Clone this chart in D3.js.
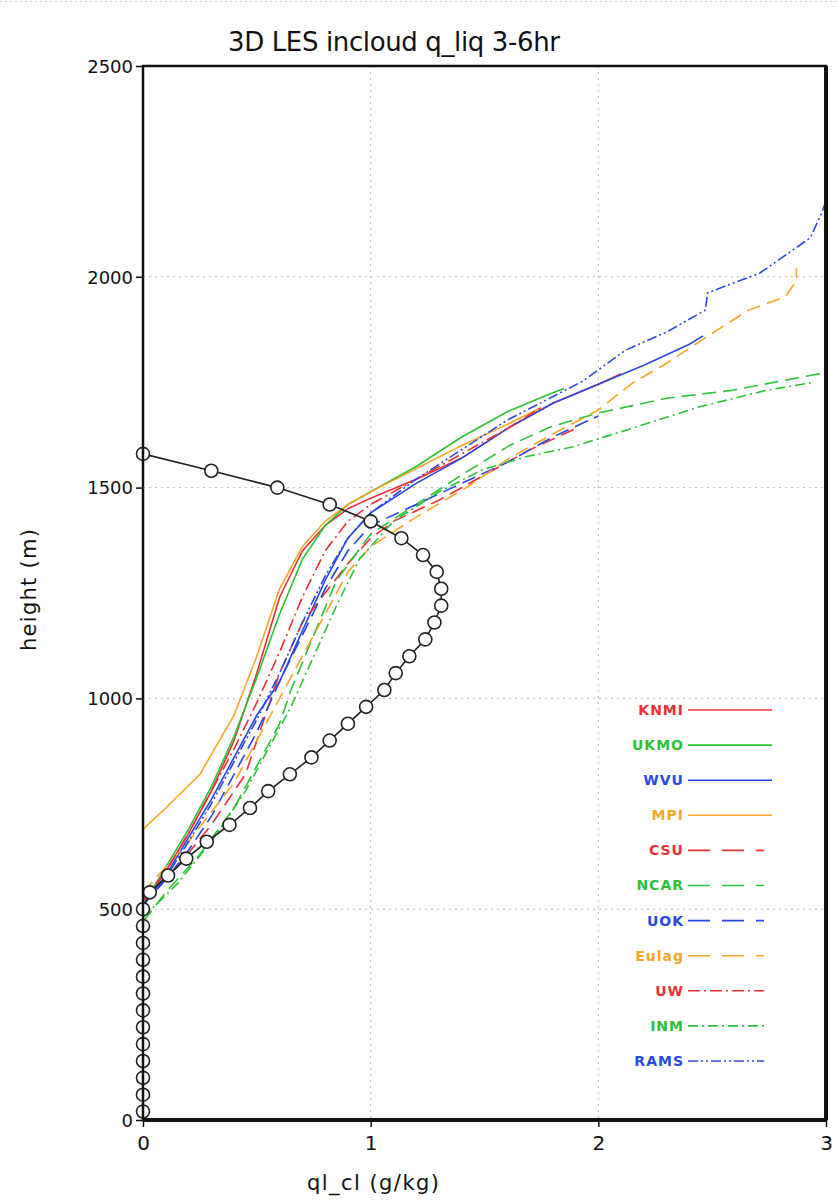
<!DOCTYPE html>
<html>
<head>
<meta charset="utf-8">
<script src="https://cdn.jsdelivr.net/npm/d3@7"></script>
<style>
  body { margin: 0; background: #fff; }
  svg text { font-family: "DejaVu Sans", sans-serif; }
</style>
</head>
<body>
<div id="chart"></div>
<script>
// observed / reference profile (black line with circles)
const obsHeight = [20, 60, 100, 140, 180, 220, 260, 300, 340, 380, 420, 460, 500, 540,
  580, 620, 660, 700, 740, 780, 820, 860, 900, 940, 980, 1020, 1060, 1100, 1140, 1180,
  1220, 1260, 1300, 1340, 1380, 1420, 1460, 1500, 1540, 1580]
const obsQl = [0, 0, 0, 0, 0, 0, 0, 0, 0, 0, 0, 0, 0, 0.03,
  0.11, 0.19, 0.28, 0.38, 0.47, 0.55, 0.645, 0.74, 0.82, 0.90, 0.98, 1.06, 1.11, 1.17, 1.24, 1.28,
  1.31, 1.31, 1.29, 1.23, 1.135, 1.00, 0.82, 0.59, 0.30, 0]

// model names and their [ql, height] profiles
const models = ['KNMI', 'UKMO', 'WVU', 'MPI', 'CSU', 'NCAR', 'UOK', 'Eulag', 'UW', 'INM', 'RAMS']
const colors = ['#ec3034', '#2cc236', '#2a48e4', '#f2a62a', '#ec3034', '#2cc236', '#2a48e4', '#f2a62a', '#ec3034', '#2cc236', '#2a48e4']
const dashes = ['none', 'none', 'none', 'none', '14,7', '14,7', '14,7', '14,7', '12,4,2,4', '10,4,2,4', '10,3,2,3,2,3']

const knmi = [[0, 510], [0.1, 590], [0.2, 680], [0.3, 780], [0.4, 900], [0.5, 1060], [0.6, 1240], [0.7, 1350], [0.8, 1410], [0.9, 1450], [1.0, 1475], [1.2, 1520], [1.4, 1570], [1.6, 1640], [1.8, 1700], [2.0, 1745], [2.1, 1770]]
const ukmo = [[0, 510], [0.1, 600], [0.2, 690], [0.3, 790], [0.4, 910], [0.5, 1050], [0.6, 1200], [0.7, 1330], [0.8, 1410], [0.9, 1460], [1.0, 1490], [1.2, 1550], [1.4, 1620], [1.6, 1680], [1.8, 1725], [1.85, 1735]]
const wvu = [[0, 510], [0.1, 580], [0.2, 670], [0.3, 760], [0.4, 860], [0.5, 960], [0.6, 1040], [0.7, 1160], [0.8, 1280], [0.9, 1380], [1.0, 1440], [1.2, 1510], [1.4, 1570], [1.6, 1640], [1.8, 1700], [2.0, 1745], [2.2, 1790], [2.4, 1840], [2.46, 1860]]
const mpi = [[0, 690], [0.1, 740], [0.25, 820], [0.4, 960], [0.5, 1100], [0.6, 1260], [0.7, 1360], [0.8, 1420], [0.9, 1460], [1.0, 1490], [1.2, 1545], [1.4, 1600], [1.6, 1650], [1.75, 1690]]
const csu = [[0, 520], [0.15, 600], [0.3, 700], [0.45, 820], [0.55, 980], [0.6, 1060], [0.7, 1180], [0.8, 1250], [0.9, 1320], [1.0, 1380], [1.1, 1420], [1.3, 1470], [1.5, 1530], [1.7, 1590], [1.9, 1640]]
const ncar = [[0, 470], [0.1, 540], [0.25, 630], [0.4, 740], [0.5, 840], [0.6, 940], [0.65, 1020], [0.75, 1150], [0.85, 1280], [1.0, 1390], [1.2, 1460], [1.4, 1530], [1.61, 1600], [1.79, 1644], [2.0, 1677], [2.3, 1712], [2.59, 1731], [2.94, 1767], [3.0, 1772]]
const uok = [[0, 510], [0.1, 570], [0.2, 640], [0.3, 720], [0.4, 820], [0.5, 920], [0.6, 1040], [0.7, 1150], [0.8, 1260], [0.9, 1350], [1.0, 1410], [1.2, 1460], [1.4, 1510], [1.6, 1560], [1.8, 1620], [2.0, 1670]]
const eulag = [[0, 540], [0.2, 660], [0.4, 800], [0.5, 900], [0.6, 1000], [0.7, 1100], [0.8, 1200], [0.9, 1300], [1.0, 1360], [1.2, 1430], [1.42, 1500], [1.61, 1570], [1.81, 1630], [2.0, 1684], [2.15, 1748], [2.3, 1795], [2.52, 1873], [2.66, 1921], [2.82, 1952], [2.87, 1990], [2.87, 2020]]
const uw = [[0, 520], [0.1, 590], [0.2, 680], [0.3, 780], [0.4, 880], [0.5, 990], [0.6, 1110], [0.7, 1240], [0.8, 1350], [0.9, 1420], [1.0, 1460], [1.2, 1520], [1.4, 1580], [1.6, 1640], [1.75, 1690]]
const inm = [[0, 480], [0.15, 560], [0.3, 660], [0.45, 780], [0.55, 880], [0.65, 980], [0.75, 1100], [0.85, 1220], [0.95, 1330], [1.1, 1420], [1.3, 1490], [1.49, 1542], [1.68, 1573], [1.89, 1597], [2.15, 1641], [2.44, 1691], [2.74, 1731], [2.95, 1750]]
const rams = [[0, 510], [0.1, 575], [0.2, 660], [0.3, 750], [0.4, 850], [0.5, 950], [0.6, 1060], [0.7, 1180], [0.8, 1290], [0.9, 1380], [1.0, 1440], [1.2, 1520], [1.4, 1590], [1.6, 1660], [1.93, 1752], [2.12, 1826], [2.3, 1869], [2.47, 1921], [2.48, 1962], [2.71, 2009], [2.93, 2092], [2.98, 2150], [3.0, 2180]]
const profiles = [knmi, ukmo, wvu, mpi, csu, ncar, uok, eulag, uw, inm, rams]

const xTicks = [0, 1, 2, 3]
const yTicks = [0, 500, 1000, 1500, 2000, 2500]

const W = 837, H = 1201
const svg = d3.select('#chart').append('svg')
  .attr('width', W)
  .attr('height', H)

const x = d3.scaleLinear().domain([0, 3]).range([143, 826])
const y = d3.scaleLinear().domain([0, 2500]).range([1120, 66])

// faint dotted line along the top edge of the picture
svg.append('line')
  .attr('x1', 0).attr('x2', W).attr('y1', 1.5).attr('y2', 1.5)
  .attr('stroke', '#ccc').attr('stroke-dasharray', '2,3')

// grid
const grid = svg.append('g').attr('stroke', '#bbb').attr('stroke-dasharray', '2,4').attr('stroke-width', 1)
grid.selectAll('line.gx')
  .data([1, 2])
  .enter().append('line')
  .attr('x1', d => x(d)).attr('x2', d => x(d))
  .attr('y1', y(2500)).attr('y2', y(0))
grid.selectAll('line.gy')
  .data([500, 1000, 1500, 2000])
  .enter().append('line')
  .attr('x1', x(0)).attr('x2', x(3))
  .attr('y1', d => y(d)).attr('y2', d => y(d))

// axes
const xAxis = svg.append('g')
  .attr('transform', 'translate(0,' + y(0) + ')')
  .call(d3.axisBottom(x).tickValues(xTicks).tickFormat(d3.format('d')).tickSizeOuter(0).tickSize(7).tickPadding(9))
const yAxis = svg.append('g')
  .attr('transform', 'translate(' + x(0) + ',0)')
  .call(d3.axisLeft(y).tickValues(yTicks).tickFormat(d3.format('d')).tickSizeOuter(0).tickSize(7).tickPadding(3))
xAxis.selectAll('text').attr('font-size', 20).attr('fill', '#111')
yAxis.selectAll('text').attr('font-size', 18).attr('fill', '#111').attr('dy', '0.35em')
xAxis.select('.domain').remove()
yAxis.select('.domain').remove()
svg.selectAll('.tick line').attr('stroke', '#111').attr('stroke-width', 1.5)

// model lines
const line = d3.line().x(d => x(d[0])).y(d => y(d[1]))
svg.append('g').selectAll('path.model')
  .data(profiles)
  .enter().append('path')
  .attr('class', 'model')
  .attr('d', line)
  .attr('fill', 'none')
  .attr('stroke', (d, i) => colors[i])
  .attr('stroke-width', 1.6)
  .attr('stroke-dasharray', (d, i) => dashes[i])

// reference profile
const obs = obsHeight.map((h, i) => [obsQl[i], h])
svg.append('path')
  .attr('d', line(obs))
  .attr('fill', 'none')
  .attr('stroke', '#222')
  .attr('stroke-width', 1.6)
svg.append('g').selectAll('circle')
  .data(obs)
  .enter().append('circle')
  .attr('cx', d => x(d[0]))
  .attr('cy', d => y(d[1]))
  .attr('r', 6.5)
  .attr('fill', '#fff')
  .attr('stroke', '#222')
  .attr('stroke-width', 1.6)

// frame
svg.append('rect')
  .attr('x', x(0)).attr('y', y(2500))
  .attr('width', x(3) - x(0)).attr('height', y(0) - y(2500))
  .attr('fill', 'none').attr('stroke', '#111').attr('stroke-width', 2.5)
svg.append('line')
  .attr('x1', x(0)).attr('x2', x(3)).attr('y1', y(0)).attr('y2', y(0))
  .attr('stroke', '#111').attr('stroke-width', 4)
svg.append('line')
  .attr('x1', x(3)).attr('x2', x(3)).attr('y1', y(2500)).attr('y2', y(0))
  .attr('stroke', '#111').attr('stroke-width', 4)

// legend
const legend = svg.append('g').selectAll('g.item')
  .data(models)
  .enter().append('g')
  .attr('class', 'item')
  .attr('transform', (d, i) => 'translate(0,' + (710 + i * 35.1) + ')')
legend.append('text')
  .attr('x', 684)
  .attr('y', 0)
  .attr('dy', '0.35em')
  .attr('text-anchor', 'end')
  .attr('font-size', 14)
  .attr('font-weight', 'bold')
  .attr('letter-spacing', 1)
  .attr('fill', (d, i) => colors[i])
  .text(d => d)
legend.append('line')
  .attr('x1', 688)
  .attr('x2', (d, i) => i < 4 ? 772 : 764)
  .attr('stroke', (d, i) => colors[i])
  .attr('stroke-width', 1.6)
  .attr('stroke-dasharray', (d, i) => dashes[i] === 'none' ? 'none' : (i < 8 ? '22,12' : dashes[i]))

// titles
svg.append('text')
  .attr('x', 228).attr('y', 51)
  .attr('font-size', 26)
  .attr('fill', '#111')
  .attr('textLength', 332)
  .attr('lengthAdjust', 'spacing')
  .text('3D LES incloud q_liq 3-6hr')
svg.append('text')
  .attr('transform', 'translate(36,590) rotate(-90)')
  .attr('text-anchor', 'middle')
  .attr('font-size', 21)
  .attr('fill', '#111')
  .attr('textLength', 122)
  .attr('lengthAdjust', 'spacing')
  .text('height (m)')
svg.append('text')
  .attr('x', 373).attr('y', 1190)
  .attr('text-anchor', 'middle')
  .attr('font-size', 21)
  .attr('fill', '#111')
  .attr('textLength', 132)
  .attr('lengthAdjust', 'spacing')
  .text('ql_cl (g/kg)')
</script>
</body>
</html>
